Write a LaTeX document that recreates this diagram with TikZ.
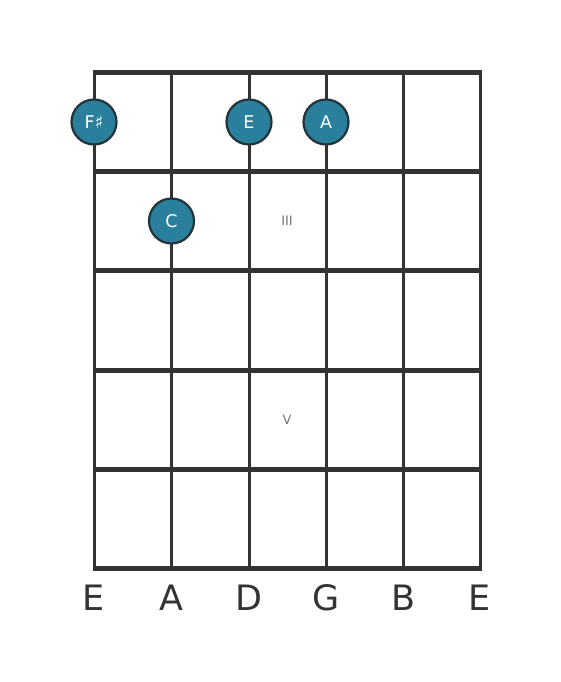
\documentclass[tikz,border=0pt]{standalone}
\usepackage{fontspec}
\setmainfont{DejaVu Sans}
\definecolor{ink}{HTML}{333333}
\definecolor{dotfill}{HTML}{2A7F9C}
\definecolor{dotedge}{HTML}{233338}
\definecolor{roman}{HTML}{777777}
\begin{document}
\begin{tikzpicture}[x=1pt,y=-1pt,
  fretline/.style={ink,line width=5pt,line cap=butt,shorten <=-1.5pt,shorten >=-1.5pt},
  stringline/.style={ink,line width=3pt},
  notedot/.style={circle,fill=dotfill,draw=dotedge,line width=2.2pt,minimum size=45pt,inner sep=0pt,text=white,font=\fontsize{17.5}{17.5}\selectfont},
  strlabel/.style={text=ink,font=\fontsize{35}{35}\selectfont,anchor=center},
  fretnum/.style={text=roman,font=\fontsize{13}{13}\selectfont}]
\useasboundingbox[fill=white] (0,0) rectangle (560,682);
% string coordinates
\foreach \n/\x in {1/94,2/171.5,3/249,4/326,5/403,6/480}{
  \coordinate (t\n) at (\x,72.5);
  \coordinate (b\n) at (\x,568.5);
}
\foreach \n in {1,...,6}{\draw[stringline] (t\n) -- (b\n);}
\foreach \f/\y in {0/72.5,1/171.5,2/270.5,3/370,4/469,5/568.5}{
  \coordinate (fl\f) at (94,\y);
  \coordinate (fr\f) at (480,\y);
  \draw[fretline] (fl\f) -- (fr\f);
}
\node[notedot] (nFs) at (94,122) {F♯};
\node[notedot] (nE) at (249,122) {E};
\node[notedot] (nA) at (326,122) {A};
\node[notedot] (nC) at (171.5,221) {C};
\node[fretnum] (f3) at (287,221) {III};
\node[fretnum] (f5) at (287,420) {V};
\foreach \n/\x/\l in {1/94/E,2/171.5/A,3/249/D,4/326/G,5/403/B,6/480/E}{
  \node[strlabel] (l\n) at (\x,598) {\l};
}
\end{tikzpicture}
\end{document}
